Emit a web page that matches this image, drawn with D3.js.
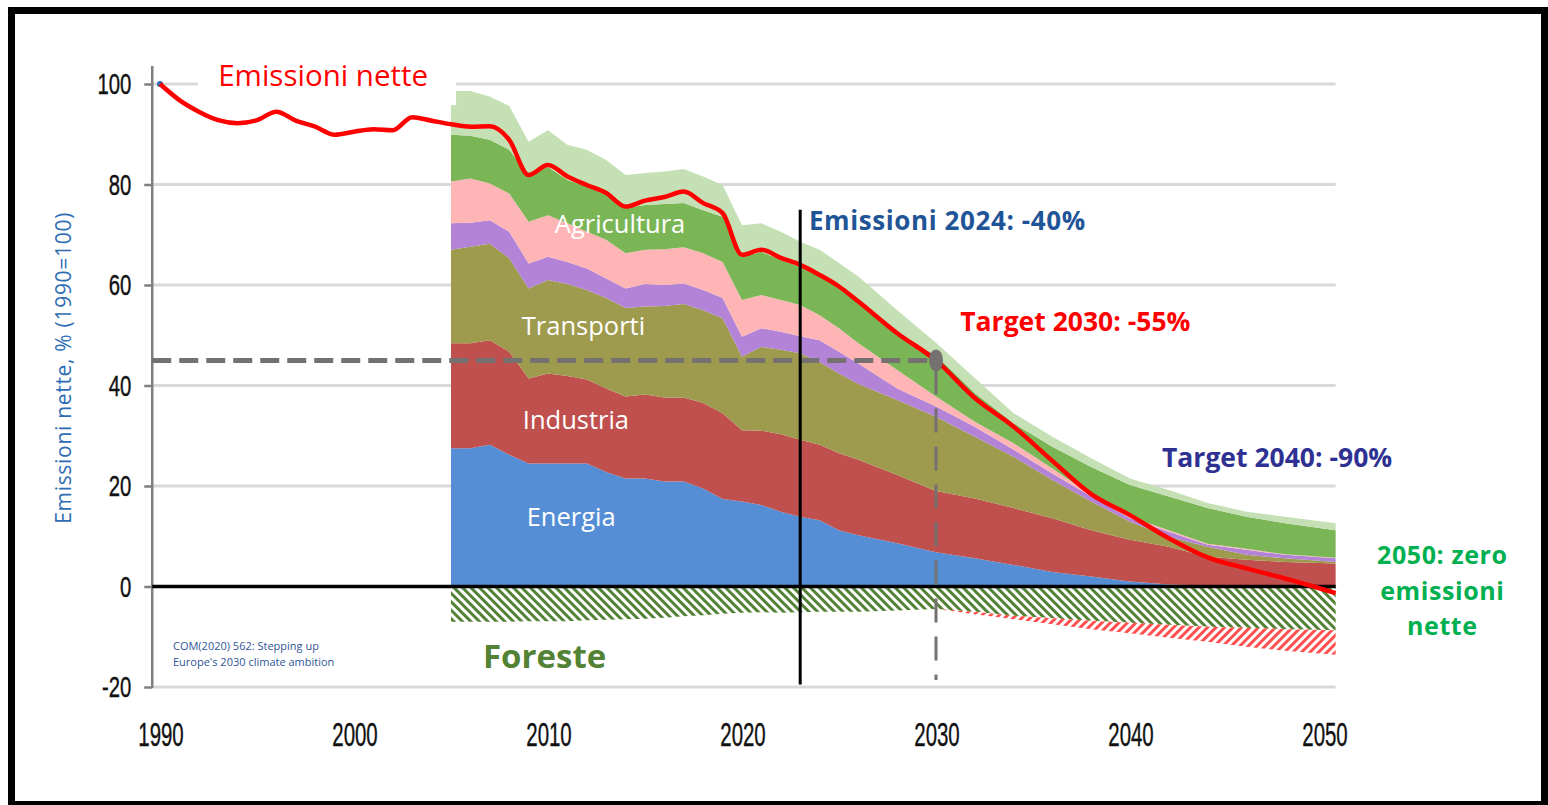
<!DOCTYPE html>
<html><head><meta charset="utf-8">
<script src="https://cdn.jsdelivr.net/npm/d3@7"></script>
<style>html,body{margin:0;padding:0;background:#fff;overflow:hidden}svg{display:block}</style>
</head><body>
<svg id="chart" width="1548" height="805"></svg>
<script>
// ---------- DATA ----------
const netYears = [1990,1991,1992,1993,1994,1995,1996,1997,1998,1999,2000,2001,2002,2003,2004,2005,2006,2007,2008,2009,2010,2011,2012,2013,2014,2015,2016,2017,2018,2019,2020,2021,2022,2023,2024,2025,2026,2028,2030,2032,2034,2036,2038,2040,2042,2044,2046,2048,2050.6];
const netValues = [100,96.8,94.5,92.8,92.2,92.8,94.5,92.7,91.5,89.9,90.5,91.0,90.8,93.4,92.7,92.0,91.5,91.6,88.9,81.9,83.9,81.6,79.9,78.3,75.6,76.8,77.5,78.6,76.3,74.3,66.0,67.0,65.4,64.0,62.0,59.7,56.7,50.4,45.0,37.5,31.8,25.0,18.4,14.2,9.6,5.8,3.6,1.6,-1.3];

const sectorYears = [2005,2006,2007,2008,2009,2010,2011,2012,2013,2014,2015,2016,2017,2018,2019,2020,2021,2022,2023,2024,2025,2026,2028,2030,2032,2034,2036,2038,2040,2042,2044,2046,2048,2050.6];
const energia     = [27.5,27.5,28.2,26.2,24.5,24.5,24.5,24.5,22.8,21.5,21.5,20.9,20.9,19.5,17.4,16.9,16.2,14.9,13.9,13.2,11.2,10.2,8.6,6.8,5.6,4.3,2.9,2.0,1.0,0.4,0.2,0.1,0.1,0.1];
const industria   = [20.9,20.9,20.8,20.5,16.9,17.9,17.4,16.7,16.6,16.3,16.7,16.7,16.7,17.0,17.1,14.2,14.8,15.4,15.3,15.0,15.3,15.0,13.6,12.2,11.9,11.3,10.7,9.2,8.3,7.5,5.7,5.2,4.8,4.5];
const transporti  = [18.6,19.2,19.2,18.6,17.9,18.6,18.3,17.8,18.0,17.6,17.5,18.2,18.6,18.5,18.9,14.6,16.7,16.8,17.2,16.5,15.9,15.1,14.9,14.8,12.3,10.2,7.6,5.7,3.6,2.0,2.0,1.0,0.7,0.3];
const edifici     = [5.3,4.8,4.7,5.3,5.0,4.6,4.4,4.3,3.9,3.9,4.5,4.2,4.1,4.0,4.0,4.0,3.7,3.6,3.4,4.3,4.3,4.1,2.3,2.0,2.0,1.4,1.3,1.0,0.7,1.0,0.4,1.0,0.7,0.7];
const altro       = [8.3,8.8,7.3,7.6,8.3,8.3,7.7,7.3,7.7,7.0,6.8,7.1,7.2,7.3,7.2,7.3,6.6,6.3,6.2,5.0,4.7,4.0,3.7,2.0,1.0,1.3,1.0,0.3,0.3,0.3,0.2,0.2,0.1,0.1];
const agricoltura = [9.3,8.5,8.7,8.7,9.3,9.6,8.6,9.0,8.9,9.0,8.9,9.0,8.8,8.6,9.0,8.6,8.6,8.0,7.6,7.7,7.9,8.1,6.9,8.2,5.7,4.0,4.3,5.6,6.3,6.7,7.1,6.4,6.2,5.5];
const internaz    = [8.7,8.9,8.6,8.7,6.6,7.3,7.0,7.3,7.0,6.6,6.4,6.5,6.8,6.7,6.3,6.3,5.7,5.6,5.0,5.3,5.1,5.2,5.0,2.5,3.0,2.0,2.0,1.7,1.3,1.3,1.0,1.0,1.3,1.4];
const foreste     = [-7.0,-7.0,-7.0,-7.0,-6.9,-6.9,-6.9,-6.7,-6.6,-6.5,-6.4,-6.2,-5.9,-5.7,-5.4,-5.2,-5.1,-5.2,-5.1,-5.0,-5.0,-5.0,-4.8,-4.5,-5.0,-5.8,-6.3,-6.8,-7.2,-7.6,-8.0,-8.2,-8.5,-8.7];
const extraSinkYears = [2030,2032,2034,2036,2038,2040,2042,2044,2046,2048,2050.6];
const extraSink      = [0,-0.5,-0.7,-1.2,-1.7,-2.1,-2.6,-3.0,-3.8,-4.3,-4.9];

const sectorKeys   = ["Energia","Industria","Transporti","Edifici","Altro","Agricultura","Internazionale"];
const sectorValues = [energia,industria,transporti,edifici,altro,agricoltura,internaz];
const sectorColors = ["#558ed5","#c0504d","#9e9a4e","#b283d6","#ffb5b5","#7ab656","#c5e0b4"];

const xTicks = [1990,2000,2010,2020,2030,2040,2050];
const yTicks = [-20,0,20,40,60,80,100];

const sectorLabels = [
  {text:"Agricultura", year:2010.35, value:70.4},
  {text:"Transporti",  year:2008.65, value:50.0},
  {text:"Industria",   year:2008.7,  value:31.4},
  {text:"Energia",     year:2008.9,  value:12.1}
];

// ---------- SCALES ----------
const svg = d3.select("#chart");
const x = d3.scaleLinear().domain([1990,2050]).range([160,1324]);
const y = d3.scaleLinear().domain([-20,100]).range([687,84]);
const xStart = 1989.6, xEnd = 2050.6;

// frame
svg.append("rect").attr("x",11.5).attr("y",10.5).attr("width",1533).attr("height",794)
  .attr("fill","none").attr("stroke","#000").attr("stroke-width",7);

// gridlines
svg.append("g").selectAll("line").data(yTicks).join("line")
  .attr("x1",x(xStart)).attr("x2",x(xEnd)).attr("y1",d=>y(d)).attr("y2",d=>y(d))
  .attr("stroke","#d9d9d9").attr("stroke-width",3);

// y axis
const yAxis = svg.append("g").attr("transform",`translate(${x(xStart)},0)`)
  .call(d3.axisLeft(y).tickValues(yTicks).tickSize(8).tickFormat(""));
yAxis.select(".domain").remove();
yAxis.selectAll(".tick line").attr("stroke","#7f7f7f").attr("stroke-width",2.5);
svg.append("line").attr("x1",x(xStart)).attr("x2",x(xStart)).attr("y1",y(103.6)).attr("y2",y(-20.2))
  .attr("stroke","#7f7f7f").attr("stroke-width",2.5);
svg.append("g").selectAll("text").data(yTicks).join("text")
  .attr("transform",d=>`translate(${x(xStart)-21},${y(d)+10}) scale(0.7,1)`)
  .attr("text-anchor","end").attr("font-family","Liberation Sans, Arial, sans-serif")
  .attr("font-size",29).attr("fill","#111").attr("stroke","#111").attr("stroke-width",0.4).text(d=>d);

// x tick labels
svg.append("g").selectAll("text").data(xTicks).join("text")
  .attr("transform",d=>`translate(${x(d)+1},${y(-20)+59}) scale(0.62,1)`)
  .attr("text-anchor","middle").attr("font-family","Liberation Sans, Arial, sans-serif")
  .attr("font-size",33).attr("fill","#111").attr("stroke","#111").attr("stroke-width",0.4).text(d=>d);

// y axis title
svg.append("text").attr("transform",`translate(71,${y(43.5)}) rotate(-90)`)
  .attr("text-anchor","middle").attr("font-family","Open Sans, sans-serif")
  .attr("font-size",21).attr("letter-spacing",0.7).attr("fill","#2e6db4")
  .text("Emissioni nette, % (1990=100)");

// ---------- PATTERNS ----------
const defs = svg.append("defs");
function hatch(id, color, angle){
  const p = defs.append("pattern").attr("id",id).attr("patternUnits","userSpaceOnUse")
    .attr("width",6).attr("height",6).attr("patternTransform",`rotate(${angle})`);
  p.append("rect").attr("width",6).attr("height",6).attr("fill","#fff");
  p.append("rect").attr("width",3).attr("height",6).attr("fill",color);
}
hatch("hatchGreen","#548235",-45);
hatch("hatchRed","#ff3b3b",45);

// ---------- STACKED AREAS ----------
const rows = sectorYears.map((yr,i)=>{
  const r = {year:yr};
  sectorKeys.forEach((k,j)=>r[k]=sectorValues[j][i]);
  return r;
});
const stacked = d3.stack().keys(sectorKeys)(rows);
const area = d3.area().x(d=>x(d.data.year)).y0(d=>y(d[0])).y1(d=>y(d[1]));
svg.append("g").selectAll("path").data(stacked).join("path")
  .attr("d",area).attr("fill",(d,i)=>sectorColors[i]);

// forest sink hatch
const forestRows = sectorYears.map((yr,i)=>({year:yr, v:foreste[i]}));
svg.append("path").datum(forestRows)
  .attr("d",d3.area().x(d=>x(d.year)).y0(y(0)).y1(d=>y(d.v)))
  .attr("fill","url(#hatchGreen)");
const extraRows = extraSinkYears.map((yr,i)=>{
  const f = foreste[sectorYears.indexOf(yr)];
  return {year:yr, top:f, bottom:f+extraSink[i]};
});
svg.append("path").datum(extraRows)
  .attr("d",d3.area().x(d=>x(d.year)).y0(d=>y(d.top)).y1(d=>y(d.bottom)))
  .attr("fill","url(#hatchRed)").attr("opacity",0.9);

// zero line
svg.append("line").attr("x1",x(xStart)).attr("x2",x(xEnd)).attr("y1",y(0)).attr("y2",y(0))
  .attr("stroke","#000").attr("stroke-width",3.5);

// label box for "Emissioni nette"
svg.append("rect").attr("x",x(1991.96)).attr("y",y(104.8)).attr("width",x(2005.26)-x(1991.96))
  .attr("height",y(95.8)-y(104.8)).attr("fill","#fff");

// target 2030 dashed lines
svg.append("line").attr("x1",x(xStart)).attr("x2",x(2030)).attr("y1",y(45)).attr("y2",y(45))
  .attr("stroke","#767171").attr("stroke-width",5).attr("stroke-dasharray","19,8");
svg.append("line").attr("x1",x(2030)).attr("x2",x(2030)).attr("y1",y(43)).attr("y2",y(-18.6))
  .attr("stroke","#767171").attr("stroke-width",3).attr("stroke-dasharray","24,14");

// net emissions line
const netRows = netYears.map((yr,i)=>({year:yr, v:netValues[i]}));
svg.append("circle").attr("cx",x(1990)).attr("cy",y(100)).attr("r",3).attr("fill","#2e6db4");
svg.append("path").datum(netRows)
  .attr("d",d3.line().x(d=>x(d.year)).y(d=>y(d.v)).curve(d3.curveMonotoneX))
  .attr("fill","none").attr("stroke","#ff0000").attr("stroke-width",4.5).attr("stroke-linejoin","round");

// 2030 marker
svg.append("ellipse").attr("cx",x(2030)).attr("cy",y(45)).attr("rx",7).attr("ry",11).attr("fill","#767171");

// 2024 vertical line
svg.append("line").attr("x1",x(2023)).attr("x2",x(2023)).attr("y1",y(75)).attr("y2",y(-19.5))
  .attr("stroke","#000").attr("stroke-width",3);

// sector labels
svg.append("g").selectAll("text").data(sectorLabels).join("text")
  .attr("x",d=>x(d.year)).attr("y",d=>y(d.value))
  .attr("font-family","Open Sans, sans-serif").attr("font-size",25.5).attr("fill","#fff")
  .text(d=>d.text);

// ---------- ANNOTATIONS ----------
svg.append("text").attr("x",x(1993)).attr("y",y(99.7))
  .attr("font-family","Open Sans, sans-serif").attr("font-size",29.5).attr("fill","#ff0000")
  .text("Emissioni nette");

svg.append("text").attr("x",x(2023.45)).attr("y",y(70.9))
  .attr("font-family","Open Sans, sans-serif").attr("font-weight","bold").attr("font-size",26)
  .attr("letter-spacing",0.6).attr("fill","#1f5597").text("Emissioni 2024: -40%");

svg.append("text").attr("x",x(2031.25)).attr("y",y(50.9))
  .attr("font-family","Open Sans, sans-serif").attr("font-weight","bold").attr("font-size",26.5)
  .attr("fill","#ff0000").text("Target 2030: -55%");

svg.append("rect").attr("x",x(2040.5)).attr("y",y(29.3)).attr("width",x(2053.9)-x(2040.5))
  .attr("height",y(20.8)-y(29.3)).attr("fill","#fff");
svg.append("text").attr("x",x(2041.65)).attr("y",y(23.8))
  .attr("font-family","Open Sans, sans-serif").attr("font-weight","bold").attr("font-size",26.5)
  .attr("fill","#2e3192").text("Target 2040: -90%");

const zeroLines = ["2050: zero","emissioni","nette"];
const zeroVals = [4.4,-2.6,-9.7];
svg.append("g").selectAll("text").data(zeroLines).join("text")
  .attr("x",x(2056.1)).attr("y",(d,i)=>y(zeroVals[i])).attr("text-anchor","middle")
  .attr("font-family","Open Sans, sans-serif").attr("font-weight","bold").attr("font-size",25)
  .attr("letter-spacing",0.6).attr("fill","#00b050").text(d=>d);

svg.append("text").attr("x",x(2006.65)).attr("y",y(-16.2))
  .attr("font-family","Open Sans, sans-serif").attr("font-weight","bold").attr("font-size",33)
  .attr("fill","#548235").text("Foreste");

const srcLines = ["COM(2020) 562: Stepping up","Europe's 2030 climate ambition"];
svg.append("g").selectAll("text").data(srcLines).join("text")
  .attr("x",x(1990.67)).attr("y",(d,i)=>y(-12.6-3.2*i))
  .attr("font-family","Open Sans, sans-serif").attr("font-size",11).attr("fill","#2f5597")
  .text(d=>d);
</script>
</body></html>
